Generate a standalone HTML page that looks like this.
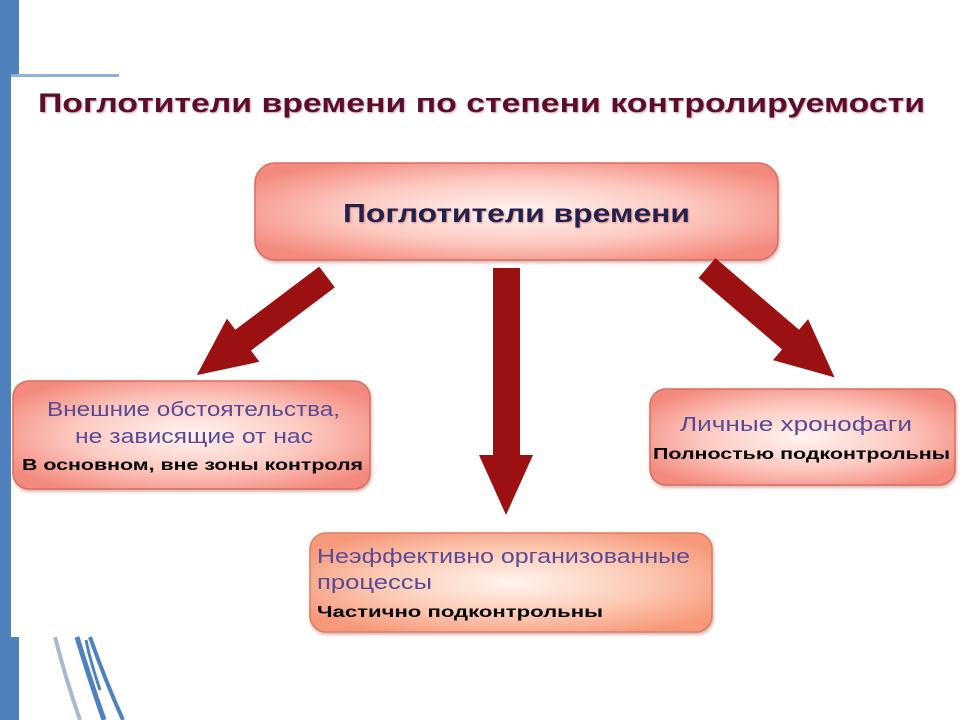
<!DOCTYPE html>
<html><head><meta charset="utf-8"><style>
html,body{margin:0;padding:0;background:#fff;}
svg{display:block;}
text{font-family:"Liberation Sans",sans-serif;}
</style></head><body>
<svg width="960" height="720" viewBox="0 0 960 720" xmlns="http://www.w3.org/2000/svg">
<defs>
<radialGradient id="g1" cx="50%" cy="50%" r="60%">
<stop offset="0" stop-color="#fff4f2"/><stop offset="0.55" stop-color="#fcc9c0"/><stop offset="1" stop-color="#f48a7e"/>
</radialGradient>
<radialGradient id="g2" cx="50%" cy="50%" r="60%">
<stop offset="0" stop-color="#fff4ee"/><stop offset="0.55" stop-color="#fccab4"/><stop offset="1" stop-color="#f6987a"/>
</radialGradient>
<filter id="sh" x="-10%" y="-10%" width="120%" height="130%"><feDropShadow dx="1" dy="2" stdDeviation="1.5" flood-color="#b06060" flood-opacity="0.5"/></filter>
<filter id="ts"><feDropShadow dx="1" dy="1" stdDeviation="0.8" flood-color="#c06060" flood-opacity="0.6"/></filter>
</defs>
<rect x="0" y="0" width="19" height="720" fill="#4f81bd"/>
<rect x="11" y="77" width="949" height="560" fill="#fff"/>
<rect x="11" y="74" width="108" height="3" fill="#8db0dc"/>
<path d="M55 637 Q66 680 80 720" stroke="#a9b8d0" stroke-width="4" fill="none"/>
<path d="M77 637 Q90 680 104 720" stroke="#4f81bd" stroke-width="5" fill="none"/>
<path d="M90 637 Q105 680 123 720" stroke="#4f81bd" stroke-width="4" fill="none"/>
<path d="M86 640 Q90 660 100 690" stroke="#4f81bd" stroke-width="3" fill="none"/>

<text x="38" y="112" font-size="27" font-weight="bold" fill="#5a0f2e" textLength="887" lengthAdjust="spacingAndGlyphs" filter="url(#ts)">Поглотители времени по степени контролируемости</text>

<rect x="255" y="163" width="523" height="97" rx="20" fill="url(#g1)" stroke="#d47060" stroke-width="1.5" filter="url(#sh)"/>
<text x="343" y="222" font-size="26" font-weight="bold" fill="#24244e" textLength="347" lengthAdjust="spacingAndGlyphs" filter="url(#ts)">Поглотители времени</text>

<rect x="13" y="381" width="357" height="108" rx="16" fill="url(#g1)" stroke="#d47060" stroke-width="1.5" filter="url(#sh)"/>
<text x="47" y="416" font-size="20" fill="#5a4a96" textLength="293" lengthAdjust="spacingAndGlyphs">Внешние обстоятельства,</text>
<text x="75" y="443" font-size="20" fill="#5a4a96" textLength="238" lengthAdjust="spacingAndGlyphs">не зависящие от нас</text>
<text x="22" y="470" font-size="16" font-weight="bold" fill="#000" textLength="341" lengthAdjust="spacingAndGlyphs">В основном, вне зоны контроля</text>

<rect x="650" y="389" width="305" height="96" rx="16" fill="url(#g1)" stroke="#d47060" stroke-width="1.5" filter="url(#sh)"/>
<text x="680" y="431" font-size="20" fill="#5a4a96" textLength="232" lengthAdjust="spacingAndGlyphs">Личные хронофаги</text>
<text x="653" y="459" font-size="16" font-weight="bold" fill="#000" textLength="297" lengthAdjust="spacingAndGlyphs">Полностью подконтрольны</text>

<rect x="310" y="533" width="402" height="99" rx="16" fill="url(#g2)" stroke="#d88060" stroke-width="1.5" filter="url(#sh)"/>
<text x="317" y="563" font-size="20" fill="#5a4a96" textLength="373" lengthAdjust="spacingAndGlyphs">Неэффективно организованные</text>
<text x="317" y="589" font-size="20" fill="#5a4a96" textLength="115" lengthAdjust="spacingAndGlyphs">процессы</text>
<text x="317" y="617" font-size="16" font-weight="bold" fill="#000" textLength="286" lengthAdjust="spacingAndGlyphs">Частично подконтрольны</text>

<!-- arrows -->
<polygon points="493,268 520,268 520,455 533,455 506,515 479,455 493,455" fill="#9b1010"/>
<g transform="translate(327,277) rotate(143)">
<polygon points="0,-13 105,-13 105,-27 163,0 105,27 105,13 0,13" fill="#9b1010"/>
</g>
<g transform="translate(707,268) rotate(40.6)">
<polygon points="0,-13 110,-13 110,-27 168,0 110,27 110,13 0,13" fill="#9b1010"/>
</g>
</svg>
</body></html>
